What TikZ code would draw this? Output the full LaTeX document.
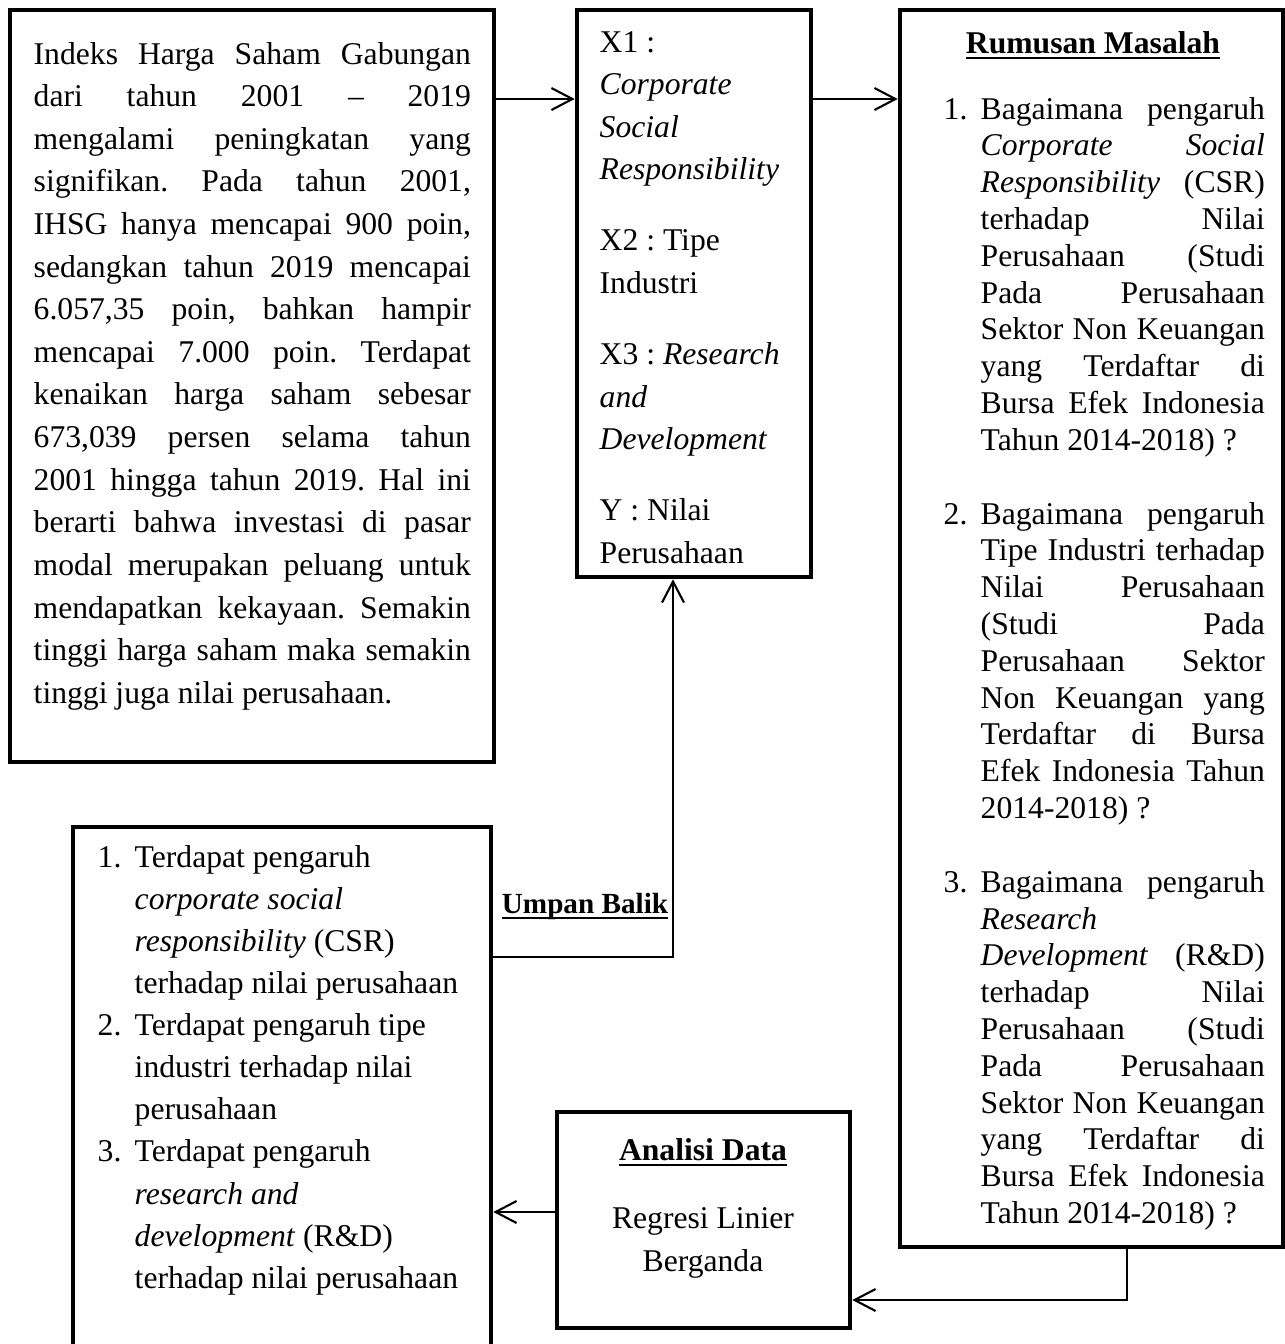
\documentclass[tikz,border=0pt]{standalone}
\usepackage{fontspec}
\setmainfont{Liberation Serif}
\usetikzlibrary{arrows.meta, fit}

\newcommand{\rata}[1]{\makebox[\linewidth][s]{#1}}
\newcommand{\nomor}[1]{\makebox[0.37cm][l]{#1}}
\newcommand{\rt}[2]{\nomor{#1}\makebox[2.84cm][s]{#2}}
\newcommand{\garis}[1]{\underline{\smash{\textbf{#1}}}}

\tikzset{
  kotak/.style={draw, line width=1.3pt, inner sep=0pt},
  teks/.style={inner sep=0pt, anchor=base west},
  huruf/.style={font=\fontsize{9}{#1}\selectfont\frenchspacing},
  hubung/.style={line width=0.6pt}
}

\begin{document}
\begin{tikzpicture}[>={Straight Barb[length=2.1mm,width=2.2mm]}, x=0.01cm, y=-0.01cm]
  \useasboundingbox (0,0) rectangle (1285,1344);

  % Kotak
  \node[kotak, fit={(10,10) (494,762)}] (latar) {};
  \node[kotak, fit={(577,10) (811,577)}] (var) {};
  \node[kotak, fit={(900,10) (1283,1247)}] (rumusan) {};
  \node[kotak, fit={(73,827) (491,1400)}] (hasil) {};
  \node[kotak, fit={(557,1112) (850,1328)}] (analisis) {};

  % Latar belakang
  \node[teks, huruf=12.12] (tlatar) at (33,64) {\parbox[t]{4.37cm}{%
    \rata{Indeks Harga Saham Gabungan}\\
    \rata{dari tahun 2001 -- 2019}\\
    \rata{mengalami peningkatan yang}\\
    \rata{signifikan. Pada tahun 2001,}\\
    \rata{IHSG hanya mencapai 900 poin,}\\
    \rata{sedangkan tahun 2019 mencapai}\\
    \rata{6.057,35 poin, bahkan hampir}\\
    \rata{mencapai 7.000 poin. Terdapat}\\
    \rata{kenaikan harga saham sebesar}\\
    \rata{673,039 persen selama tahun}\\
    \rata{2001 hingga tahun 2019. Hal ini}\\
    \rata{berarti bahwa investasi di pasar}\\
    \rata{modal merupakan peluang untuk}\\
    \rata{mendapatkan kekayaan. Semakin}\\
    \rata{tinggi harga saham maka semakin}\\
    tinggi juga nilai perusahaan.}};

  % Variabel
  \node[teks, huruf=12.09] (tvar) at (599,52) {\parbox[t]{2.2cm}{%
    X1 :\\ \textit{Corporate}\\ \textit{Social}\\ \textit{Responsibility}\\[0.287cm]
    X2 : Tipe\\ Industri\\[0.287cm]
    X3 : \textit{Research}\\ \textit{and}\\ \textit{Development}\\[0.287cm]
    Y : Nilai\\ Perusahaan}};

  % Rumusan masalah
  \node[teks, huruf=12, anchor=base] (judulR) at (1093,53) {\garis{Rumusan Masalah}};
  \node[teks, huruf=10.47] (trumusan) at (943,119) {\parbox[t]{3.3cm}{%
    \rt{1.}{Bagaimana pengaruh}\\
    \rt{}{\textit{Corporate} \textit{Social}}\\
    \rt{}{\textit{Responsibility} (CSR)}\\
    \rt{}{terhadap Nilai}\\
    \rt{}{Perusahaan (Studi}\\
    \rt{}{Pada Perusahaan}\\
    \rt{}{Sektor Non Keuangan}\\
    \rt{}{yang Terdaftar di}\\
    \rt{}{Bursa Efek Indonesia}\\
    \nomor{}Tahun 2014-2018) ?\\[\baselineskip]
    \rt{2.}{Bagaimana pengaruh}\\
    \rt{}{Tipe Industri terhadap}\\
    \rt{}{Nilai Perusahaan}\\
    \rt{}{(Studi Pada}\\
    \rt{}{Perusahaan Sektor}\\
    \rt{}{Non Keuangan yang}\\
    \rt{}{Terdaftar di Bursa}\\
    \rt{}{Efek Indonesia Tahun}\\
    \nomor{}2014-2018) ?\\[\baselineskip]
    \rt{3.}{Bagaimana pengaruh}\\
    \nomor{}\textit{Research}\\
    \rt{}{\textit{Development} (R\&D)}\\
    \rt{}{terhadap Nilai}\\
    \rt{}{Perusahaan (Studi}\\
    \rt{}{Pada Perusahaan}\\
    \rt{}{Sektor Non Keuangan}\\
    \rt{}{yang Terdaftar di}\\
    \rt{}{Bursa Efek Indonesia}\\
    \nomor{}Tahun 2014-2018) ?}};

  % Hasil
  \node[teks, huruf=11.98] (thasil) at (97,867) {\parbox[t]{3.8cm}{%
    \nomor{1.}Terdapat pengaruh\\
    \nomor{}\textit{corporate social}\\
    \nomor{}\textit{responsibility} (CSR)\\
    \nomor{}terhadap nilai perusahaan\\
    \nomor{2.}Terdapat pengaruh tipe\\
    \nomor{}industri terhadap nilai\\
    \nomor{}perusahaan\\
    \nomor{3.}Terdapat pengaruh\\
    \nomor{}\textit{research and}\\
    \nomor{}\textit{development} (R\&D)\\
    \nomor{}terhadap nilai perusahaan}};

  % Analisis data
  \node[teks, huruf=12, anchor=base] (judulA) at (703,1160) {\garis{Analisi Data}};
  \node[teks, huruf=12.5, anchor=base] (tanalisis) at (703,1228) {\parbox[t]{2.6cm}{\centering
    Regresi Linier\\ Berganda}};

  % Umpan balik
  \node[teks, font=\fontsize{8.3}{10}\selectfont, anchor=base] (lumpan) at (585,913) {\garis{Umpan Balik}};

  % Panah
  \coordinate (ya) at (0,99);
  \draw[->, hubung] (latar.east |- ya) -- (var.west |- ya);
  \draw[->, hubung] (var.east |- ya) -- (rumusan.west |- ya);

  \coordinate (ub) at (673,957);
  \draw[->, hubung] (hasil.east |- ub) -- (ub) -- (var.south -| ub);

  \coordinate (ra) at (1127,1300);
  \draw[->, hubung] (rumusan.south -| ra) -- (ra) -- (analisis.east |- ra);

  \coordinate (ah) at (0,1212);
  \draw[->, hubung] (analisis.west |- ah) -- (hasil.east |- ah);
\end{tikzpicture}
\end{document}
